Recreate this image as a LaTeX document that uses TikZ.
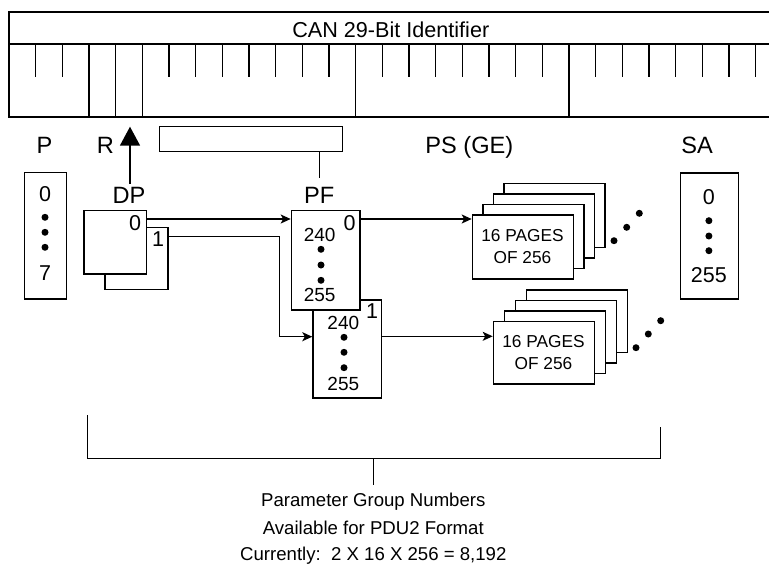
\documentclass[tikz,border=0pt]{standalone}
\usepackage{fontspec}
\setmainfont{Liberation Sans}
\usetikzlibrary{arrows.meta}
\tikzset{
  ln/.style={line width=1.4pt},
  box/.style={draw, line width=1.4pt, rectangle, inner sep=0pt, fill=white, anchor=north west},
  lbl/.style={font=\fontsize{23.6}{27}\selectfont, inner sep=0pt, anchor=base},
  hdrtxt/.style={font=\fontsize{21.6}{25}\selectfont, inner sep=0pt, anchor=base},
  num/.style={font=\fontsize{21.5}{25}\selectfont, inner sep=0pt, anchor=base},
  pfnum/.style={font=\fontsize{19}{22}\selectfont, inner sep=0pt, anchor=base},
  pg/.style={font=\fontsize{17.3}{20}\selectfont, inner sep=0pt, anchor=base},
  bot/.style={font=\fontsize{18.6}{21}\selectfont, inner sep=0pt, anchor=base},
  arr/.style={line width=1.4pt, -{Stealth[length=10pt,width=9pt,inset=2.5pt]}},
  bigarr/.style={line width=1.6pt, -{Triangle[length=19pt,width=20pt]}},
  dot/.style={circle, fill, inner sep=0pt, minimum size=7pt},
}
\begin{document}
\begin{tikzpicture}[x=1pt,y=-1pt]
\useasboundingbox (0,0) rectangle (769,565);
\clip (0,0) rectangle (769,565);
% ---- identifier bar
\draw[line width=1.7pt] (9,12) rectangle (800,117);
\draw[ln] (9,44) -- (800,44);
\node[hdrtxt] (hdr) at (390.8,37.7) {CAN 29-Bit Identifier};
\foreach \k in {3,4,5,13,21} \draw[ln] ({9+26.667*\k},44) -- ({9+26.667*\k},117);
\foreach \k in {1,2,6,7,8,9,10,11,12,14,15,16,17,18,19,20,22,23,24,25,26,27,28}
  \draw[ln] ({9+26.667*\k},44) -- ({9+26.667*\k},77);
% ---- field labels
\node[lbl] (plbl) at (44.5,153) {P};
\node[lbl] (rlbl) at (105.5,153) {R};
\node[lbl] (pslbl) at (469.4,153) {PS (GE)};
\node[lbl] (salbl) at (697,153) {SA};
\node[lbl] (dplbl) at (129,203.3) {DP};
\node[lbl] (pflbl) at (319.3,203.3) {PF};
% ---- PF bar
\node[box, minimum width=182.7pt, minimum height=25.3pt] (pfbar) at (159,125.7) {};
\draw[ln] (pfbar.south -| pflbl.north) -- ([yshift=9pt]pflbl.north);
% ---- R arrow
\coordinate (rtip) at (130,126.7);
\draw[bigarr] ([yshift=3pt]dplbl.north -| rtip) -- (rtip);
% ---- P box
\node[box, minimum width=41.7pt, minimum height=126.6pt] (pbox) at (24,171.7) {};
\node[num] (p0) at (45,201.7) {0};
\node[dot] (pd1) at (45,217.3) {};
\node[dot] (pd2) at (45,232.3) {};
\node[dot] (pd3) at (45,247.3) {};
\node[num] (p7) at (45,280.7) {7};
% ---- SA box
\node[box, minimum width=57.7pt, minimum height=126pt] (sabox) at (680,172.3) {};
\node[num] (sa0) at (708.9,204) {0};
\node[dot] (sd1) at (708.9,220.7) {};
\node[dot] (sd2) at (708.9,236) {};
\node[dot] (sd3) at (708.9,250.7) {};
\node[num] (sa255) at (708.9,282.7) {255};
% ---- DP boxes
\node[box, minimum width=63pt, minimum height=62.3pt] (dp1) at (104.3,226.7) {};
\node[box, minimum width=62.7pt, minimum height=63.3pt] (dp0) at (83.3,210) {};
\node[num] (dp0t) at (135,230.7) {0};
\node[num] (dp1t) at (158,246.7) {1};
% ---- PF boxes
\node[box, minimum width=68.4pt, minimum height=98pt] (pf1) at (312.3,299.3) {};
\node[box, minimum width=68.6pt, minimum height=99.3pt] (pf0) at (290.7,210) {};
\node[num] (pf0t) at (349.5,230) {0};
\node[pfnum] (pf0a) at (319.7,241) {240};
\node[dot] (pf0d1) at (321,249.3) {};
\node[dot] (pf0d2) at (321,265) {};
\node[dot] (pf0d3) at (321,280.3) {};
\node[pfnum] (pf0b) at (319.7,301.7) {255};
\node[num] (pf1t) at (372,318.3) {1};
\node[pfnum] (pf1a) at (343.3,329.3) {240};
\node[dot] (pf1d1) at (344,337.3) {};
\node[dot] (pf1d2) at (344,352.3) {};
\node[dot] (pf1d3) at (344,367.7) {};
\node[pfnum] (pf1b) at (343.3,390) {255};
% ---- page stack 1
\node[box, minimum width=101pt, minimum height=64pt] (s1d) at (503.2,182.8) {};
\node[box, minimum width=101pt, minimum height=64pt] (s1c) at (492.7,193.3) {};
\node[box, minimum width=101pt, minimum height=64pt] (s1b) at (482.2,203.8) {};
\node[box, minimum width=101pt, minimum height=64pt] (s1a) at (471.7,214.3) {};
\node[pg] (s1t1) at (522.5,241.7) {16 PAGES};
\node[pg] (s1t2) at (522.5,263.3) {OF 256};
\node[dot] (s1e1) at (614,240.7) {};
\node[dot] (s1e2) at (626.7,227.3) {};
\node[dot] (s1e3) at (639.3,213.3) {};
% ---- page stack 2
\node[box, minimum width=101.3pt, minimum height=62.3pt] (s2d) at (525.7,289.2) {};
\node[box, minimum width=101.3pt, minimum height=62.3pt] (s2c) at (514.7,299.8) {};
\node[box, minimum width=101.3pt, minimum height=62.3pt] (s2b) at (503.7,310.4) {};
\node[box, minimum width=101.3pt, minimum height=62.3pt] (s2a) at (492.7,321) {};
\node[pg] (s2t1) at (543.5,347.7) {16 PAGES};
\node[pg] (s2t2) at (543.5,369) {OF 256};
\node[dot] (s2e1) at (636,347.7) {};
\node[dot] (s2e2) at (648.3,334) {};
\node[dot] (s2e3) at (660.7,320.7) {};
% ---- connectors
\draw[arr] ([yshift=-9pt]dp0.north east) -- ([yshift=-9pt]pf0.north west);
\draw[arr] ([yshift=-10pt]dp1.north east) -- ++(111,0) |- ([yshift=-37.4pt]pf1.north west);
\draw[arr] ([yshift=-9pt]pf0.north east) -- ([yshift=-9pt]pf0.north east -| s1a.west);
\draw[arr] ([yshift=-37pt]pf1.north east) -- ([yshift=-37pt]pf1.north east -| s2a.west);
% ---- bracket
\node[bot] (pgn1) at (373.3,506) {Parameter Group Numbers};
\node[bot] (pgn2) at (373.3,534) {Available for PDU2 Format};
\node[bot] (pgn3) at (373.3,560) {Currently:\ \ 2 X 16 X 256 = 8,192};
\coordinate (brl) at (87.7,415);
\coordinate (brr) at (660.7,426.7);
\coordinate (brm) at (373.3,458.3);
\draw[ln] (brl) |- (brm) -| (brr);
\draw[ln] (brm) -- ([yshift=7pt]pgn1.north);
\end{tikzpicture}
\end{document}
